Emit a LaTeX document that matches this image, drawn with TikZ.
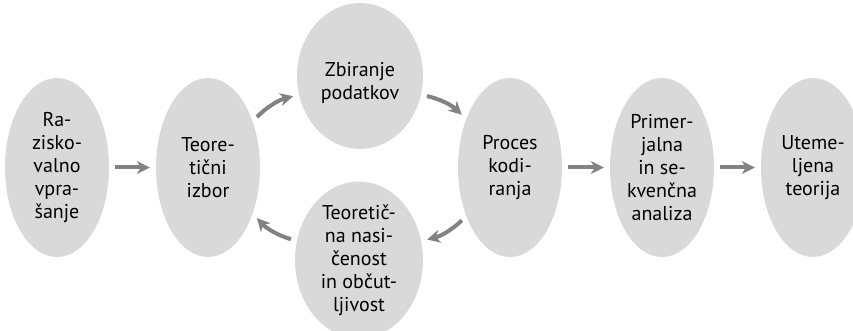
\documentclass[tikz,border=0pt]{standalone}
\usepackage{fontspec}
\setmainfont{PT Sans}
\usepackage{tikz}
\usetikzlibrary{shapes.geometric, arrows.meta, positioning}
\definecolor{phasefill}{HTML}{D9D9D9}
\definecolor{arrgray}{HTML}{828282}
\newcommand{\lowline}[1]{\raisebox{-7pt}[\height][\depth]{#1}}

\begin{document}
\begin{tikzpicture}[
  x=1pt, y=1pt,
  phase/.style={ellipse, fill=phasefill, inner sep=0pt, minimum width=104pt,
               minimum height=179pt, align=center, font=\fontsize{20}{23}\selectfont},
  arr/.style={-{Stealth[length=13pt, width=13pt, inset=4pt]}, line width=4pt, arrgray,
              shorten <=6pt, shorten >=6pt},
]
  \useasboundingbox (0,0) rectangle (853,331);
  \clip (0,0) rectangle (853,331);

  \node[phase] (razi)   at (57, 163.5)  {Ra-\\zisko-\\valno\\vpra-\\šanje};
  \node[phase] (izbor)  at (208, 163.5) {Teore-\\tični\\izbor};
  \node[phase, minimum width=126pt, minimum height=146pt] (zbir) at (360, 255)
    {\lowline{Zbiranje}\\\lowline{podatkov}};
  \node[phase, minimum width=128pt, minimum height=146pt] (nasic) at (359, 71)
    {Teoretič-\\na nasi-\\čenost\\in občut-\\ljivost};
  \node[phase] (proces) at (510, 163.5) {Proces\\kodi-\\ranja};
  \node[phase] (primer) at (662, 163.5) {Primer-\\jalna\\in se-\\kvenčna\\analiza};
  \node[phase] (utem)   at (813, 163.5) {Uteme-\\ljena\\teorija};

  % straight steps
  \draw[arr] (razi) -- (izbor);
  \draw[arr] (proces) -- (primer);
  \draw[arr] (primer) -- (utem);

  % the cycle
  \draw[arr] (izbor.46) to[bend left=15] (zbir.197);
  \draw[arr] (zbir.-17) to[bend left=15] (proces.132);
  \draw[arr] (proces.228) to[bend left=15] (nasic.17);
  \draw[arr] (nasic.163) to[bend left=15] (izbor.314);
\end{tikzpicture}
\end{document}
